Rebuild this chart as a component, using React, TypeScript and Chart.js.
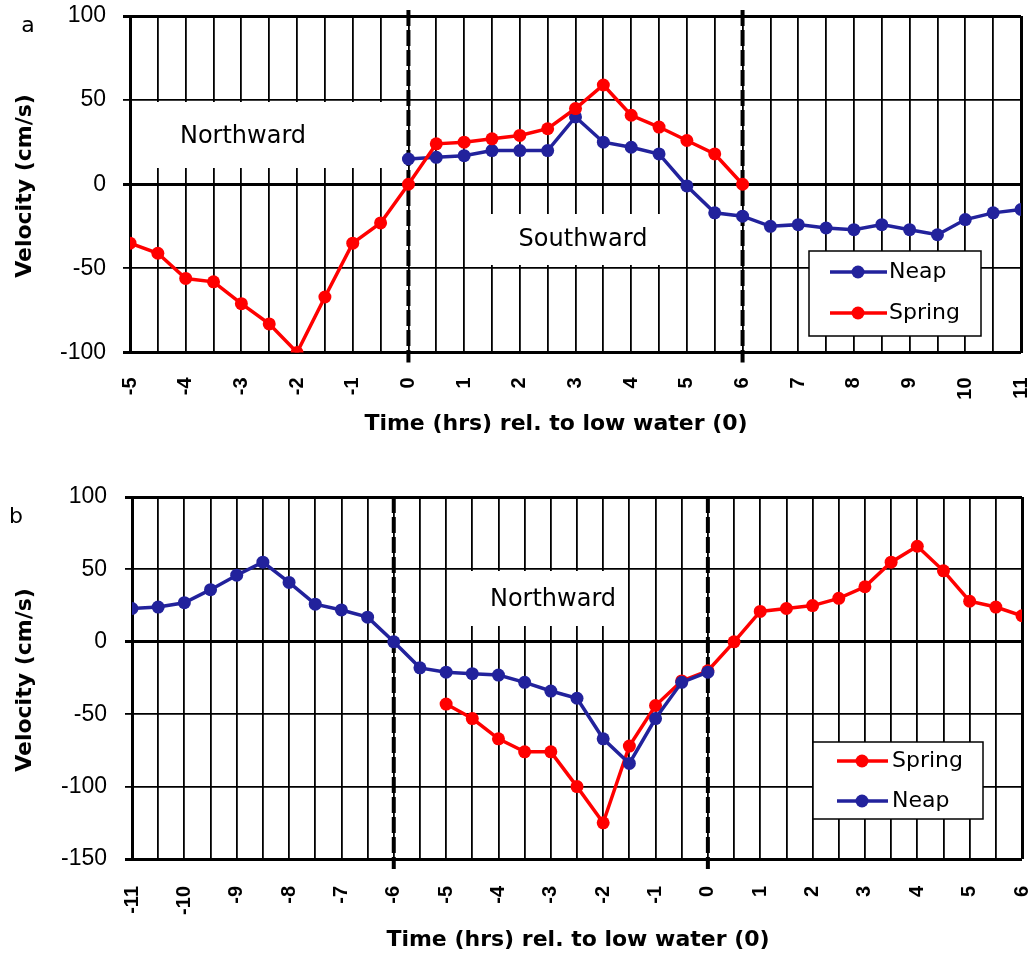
import React, { useEffect, useRef } from 'react';
import { Chart, registerables } from 'chart.js';

Chart.register(...registerables);

// ---------- Data: panel a ----------
const TIME_SPRING_A = [-5, -4.5, -4, -3.5, -3, -2.5, -2, -1.5, -1, -0.5, 0, 0.5, 1, 1.5, 2, 2.5, 3, 3.5, 4, 4.5, 5, 5.5, 6];
const SPRING_A = [-35, -41, -56, -58, -71, -83, -100, -67, -35, -23, 0, 24, 25, 27, 29, 33, 45, 59, 41, 34, 26, 18, 0];
const TIME_NEAP_A = [0, 0.5, 1, 1.5, 2, 2.5, 3, 3.5, 4, 4.5, 5, 5.5, 6, 6.5, 7, 7.5, 8, 8.5, 9, 9.5, 10, 10.5, 11];
const NEAP_A = [15, 16, 17, 20, 20, 20, 40, 25, 22, 18, -1, -17, -19, -25, -24, -26, -27, -24, -27, -30, -21, -17, -15];
const X_RANGE_A = [-5, 11];
const Y_TICKS_A = [-100, -50, 0, 50, 100];
const DASHED_A = [0, 6];
const LEGEND_A = ['Neap', 'Spring'];

// ---------- Data: panel b ----------
const TIME_NEAP_B = [-11, -10.5, -10, -9.5, -9, -8.5, -8, -7.5, -7, -6.5, -6, -5.5, -5, -4.5, -4, -3.5, -3, -2.5, -2, -1.5, -1, -0.5, 0];
const NEAP_B = [23, 24, 27, 36, 46, 55, 41, 26, 22, 17, 0, -18, -21, -22, -23, -28, -34, -39, -67, -84, -53, -28, -21];
const TIME_SPRING_B = [-5, -4.5, -4, -3.5, -3, -2.5, -2, -1.5, -1, -0.5, 0, 0.5, 1, 1.5, 2, 2.5, 3, 3.5, 4, 4.5, 5, 5.5, 6];
const SPRING_B = [-43, -53, -67, -76, -76, -100, -125, -72, -44, -27, -20, 0, 21, 23, 25, 30, 38, 55, 66, 49, 28, 24, 18];
const X_RANGE_B = [-11, 6];
const Y_TICKS_B = [-150, -100, -50, 0, 50, 100];
const DASHED_B = [-6, 0];
const LEGEND_B = ['Spring', 'Neap'];

const X_STEP = 0.5;
const X_TITLE = 'Time (hrs) rel. to low water (0)';
const Y_TITLE = 'Velocity (cm/s)';

const NEAP_COLOR = '#22229C';
const SPRING_COLOR = '#FF0000';
const COLORS: Record<string, string> = { Neap: NEAP_COLOR, Spring: SPRING_COLOR };

const TEXT_FONT = '"DejaVu Sans", Verdana, sans-serif';

function toXY(xs: number[], ys: number[]) {
  return xs.map((x, i) => ({ x, y: ys[i] }));
}

type Spec = {
  width: number;
  height: number;
  top: number;
  plotTop: number;
  plotBottom: number;
  plotLeft: number;
  plotRight: number;
  xRange: number[];
  yTicks: number[];
  series: { label: string; xs: number[]; ys: number[] }[];
  dashed: number[];
  dashTopOffset: number;
  xLabelPad: number;
  yLabelPad: number;
  boxes: { x1: number; y1: number; x2: number; y2: number; text: string; tx: number; ty: number }[];
  legend: { labels: string[]; x: number; y: number; w: number; h: number; rows: number[]; lx1: number; lx2: number; mx: number; tx: number };
  letter: { text: string; x: number; y: number };
  xTitle: { x: number; y: number };
  yTitle: { x: number; y: number };
};

function makeOverlay(spec: Spec) {
  return {
    id: 'overlay',
    beforeDatasetsDraw(chart: any) {
      const { ctx, chartArea, scales } = chart;
      ctx.save();
      for (const b of spec.boxes) {
        ctx.fillStyle = '#fff';
        ctx.fillRect(b.x1, b.y1, b.x2 - b.x1, b.y2 - b.y1);
        ctx.fillStyle = '#000';
        ctx.font = '24px ' + TEXT_FONT;
        ctx.textAlign = 'center';
        ctx.textBaseline = 'middle';
        ctx.fillText(b.text, b.tx, b.ty);
      }
      ctx.strokeStyle = '#000';
      ctx.lineWidth = 4;
      ctx.setLineDash([16, 4]);
      for (const v of spec.dashed) {
        const x = scales.x.getPixelForValue(v);
        ctx.beginPath();
        ctx.moveTo(x, chartArea.top - spec.dashTopOffset);
        ctx.lineTo(x, chartArea.bottom + 10);
        ctx.stroke();
      }
      ctx.restore();
    },
    afterDatasetsDraw(chart: any) {
      const { ctx } = chart;
      const L = spec.legend;
      ctx.save();
      ctx.fillStyle = '#fff';
      ctx.fillRect(L.x, L.y, L.w, L.h);
      ctx.strokeStyle = '#000';
      ctx.lineWidth = 1.5;
      ctx.strokeRect(L.x, L.y, L.w, L.h);
      L.labels.forEach((lab, i) => {
        const y = L.rows[i];
        const c = COLORS[lab];
        ctx.strokeStyle = c;
        ctx.lineWidth = 3.5;
        ctx.beginPath();
        ctx.moveTo(L.lx1, y);
        ctx.lineTo(L.lx2, y);
        ctx.stroke();
        ctx.fillStyle = c;
        ctx.beginPath();
        ctx.arc(L.mx, y, 6.5, 0, Math.PI * 2);
        ctx.fill();
        ctx.fillStyle = '#000';
        ctx.font = '22px ' + TEXT_FONT;
        ctx.textAlign = 'left';
        ctx.textBaseline = 'middle';
        ctx.fillText(lab, L.tx, y);
      });
      ctx.restore();
    },
    afterDraw(chart: any) {
      const { ctx } = chart;
      ctx.save();
      ctx.fillStyle = '#000';
      ctx.textAlign = 'center';
      ctx.textBaseline = 'middle';
      ctx.font = '22px ' + TEXT_FONT;
      ctx.fillText(spec.letter.text, spec.letter.x, spec.letter.y);
      ctx.font = 'bold 22px ' + TEXT_FONT;
      ctx.fillText(X_TITLE, spec.xTitle.x, spec.xTitle.y);
      ctx.translate(spec.yTitle.x, spec.yTitle.y);
      ctx.rotate(-Math.PI / 2);
      ctx.fillText(Y_TITLE, 0, 0);
      ctx.restore();
    },
  };
}

function makeConfig(spec: Spec): any {
  const xMin = spec.xRange[0];
  const xMax = spec.xRange[1];
  const yMin = spec.yTicks[0];
  const yMax = spec.yTicks[spec.yTicks.length - 1];
  return {
    type: 'line',
    data: {
      datasets: spec.series.map((s) => ({
        label: s.label,
        data: toXY(s.xs, s.ys),
        borderColor: COLORS[s.label],
        backgroundColor: COLORS[s.label],
        pointBackgroundColor: COLORS[s.label],
        pointBorderColor: COLORS[s.label],
        borderWidth: 3.5,
        pointRadius: 6.5,
        pointBorderWidth: 0,
        tension: 0,
        fill: false,
      })),
    },
    options: {
      responsive: false,
      animation: false,
      events: [],
      layout: { padding: { top: spec.plotTop, right: spec.width - spec.plotRight, left: 0, bottom: 0 } },
      plugins: { legend: { display: false }, tooltip: { enabled: false }, title: { display: false } },
      scales: {
        x: {
          type: 'linear',
          min: xMin,
          max: xMax,
          afterBuildTicks: (scale: any) => {
            const ticks = [];
            const n = Math.round((xMax - xMin) / X_STEP);
            for (let i = 0; i <= n; i++) ticks.push({ value: xMin + i * X_STEP });
            scale.ticks = ticks;
          },
          afterFit: (scale: any) => {
            scale.height = spec.height - spec.plotBottom;
            scale.paddingLeft = 0;
            scale.paddingRight = 0;
          },
          grid: {
            color: '#000',
            drawTicks: false,
            lineWidth: (c: any) => (c.tick && (c.tick.value === xMin || c.tick.value === xMax) ? 3 : 1.8),
          },
          border: { display: false },
          ticks: {
            autoSkip: false,
            maxRotation: 90,
            minRotation: 90,
            padding: spec.xLabelPad,
            color: '#000',
            font: { family: '"Liberation Sans", Arial, sans-serif', size: 20, weight: 'bold' },
            callback: (v: number) => (Number.isInteger(v) ? String(v) : ''),
          },
        },
        y: {
          type: 'linear',
          min: yMin,
          max: yMax,
          afterBuildTicks: (scale: any) => {
            scale.ticks = spec.yTicks.map((v) => ({ value: v }));
          },
          afterFit: (scale: any) => {
            scale.width = spec.plotLeft;
            scale.paddingTop = 0;
            scale.paddingBottom = 0;
          },
          grid: {
            color: '#000',
            tickLength: 7,
            lineWidth: (c: any) =>
              c.tick && (c.tick.value === yMin || c.tick.value === yMax || c.tick.value === 0) ? 3 : 1.8,
          },
          border: { display: false },
          ticks: {
            padding: spec.yLabelPad,
            color: '#000',
            font: { family: '"Liberation Sans", Arial, sans-serif', size: 23 },
          },
        },
      },
    },
    plugins: [makeOverlay(spec)],
  };
}

const SPEC_A: Spec = {
  width: 1032,
  height: 470,
  top: 0,
  plotTop: 16,
  plotBottom: 352.5,
  plotLeft: 130,
  plotRight: 1021,
  xRange: X_RANGE_A,
  yTicks: Y_TICKS_A,
  series: [
    { label: 'Spring', xs: TIME_SPRING_A, ys: SPRING_A },
    { label: 'Neap', xs: TIME_NEAP_A, ys: NEAP_A },
  ],
  dashed: DASHED_A,
  dashTopOffset: 6,
  xLabelPad: 25,
  yLabelPad: 17,
  boxes: [
    { x1: 150, y1: 102, x2: 384, y2: 168, text: 'Northward', tx: 243, ty: 137 },
    { x1: 478, y1: 214, x2: 670, y2: 265, text: 'Southward', tx: 583, ty: 240 },
  ],
  legend: { labels: LEGEND_A, x: 809, y: 251, w: 172, h: 85, rows: [272, 313], lx1: 830, lx2: 887, mx: 858, tx: 889 },
  letter: { text: 'a', x: 28, y: 26 },
  xTitle: { x: 556, y: 424 },
  yTitle: { x: 25, y: 186 },
};

const SPEC_B: Spec = {
  width: 1032,
  height: 494,
  top: 470,
  plotTop: 27,
  plotBottom: 389,
  plotLeft: 132,
  plotRight: 1022,
  xRange: X_RANGE_B,
  yTicks: Y_TICKS_B,
  series: [
    { label: 'Neap', xs: TIME_NEAP_B, ys: NEAP_B },
    { label: 'Spring', xs: TIME_SPRING_B, ys: SPRING_B },
  ],
  dashed: DASHED_B,
  dashTopOffset: 0,
  xLabelPad: 27,
  yLabelPad: 18,
  boxes: [{ x1: 460, y1: 101, x2: 615, y2: 156, text: 'Northward', tx: 553, ty: 130 }],
  legend: { labels: LEGEND_B, x: 813, y: 272, w: 170, h: 77, rows: [291, 331], lx1: 837, lx2: 888, mx: 862, tx: 892 },
  letter: { text: 'b', x: 16, y: 47 },
  xTitle: { x: 578, y: 470 },
  yTitle: { x: 25, y: 210 },
};

function Panel({ spec }: { spec: Spec }) {
  const ref = useRef<HTMLCanvasElement | null>(null);
  useEffect(() => {
    if (!ref.current) return;
    const chart = new Chart(ref.current, makeConfig(spec));
    return () => chart.destroy();
  }, [spec]);
  return (
    <canvas
      ref={ref}
      width={spec.width}
      height={spec.height}
      style={{ position: 'absolute', left: 0, top: spec.top, width: spec.width, height: spec.height, display: 'block' }}
    />
  );
}

export default function App() {
  return (
    <div style={{ position: 'absolute', left: 0, top: 0, width: 1032, height: 964, background: '#fff' }}>
      <Panel spec={SPEC_A} />
      <Panel spec={SPEC_B} />
    </div>
  );
}
